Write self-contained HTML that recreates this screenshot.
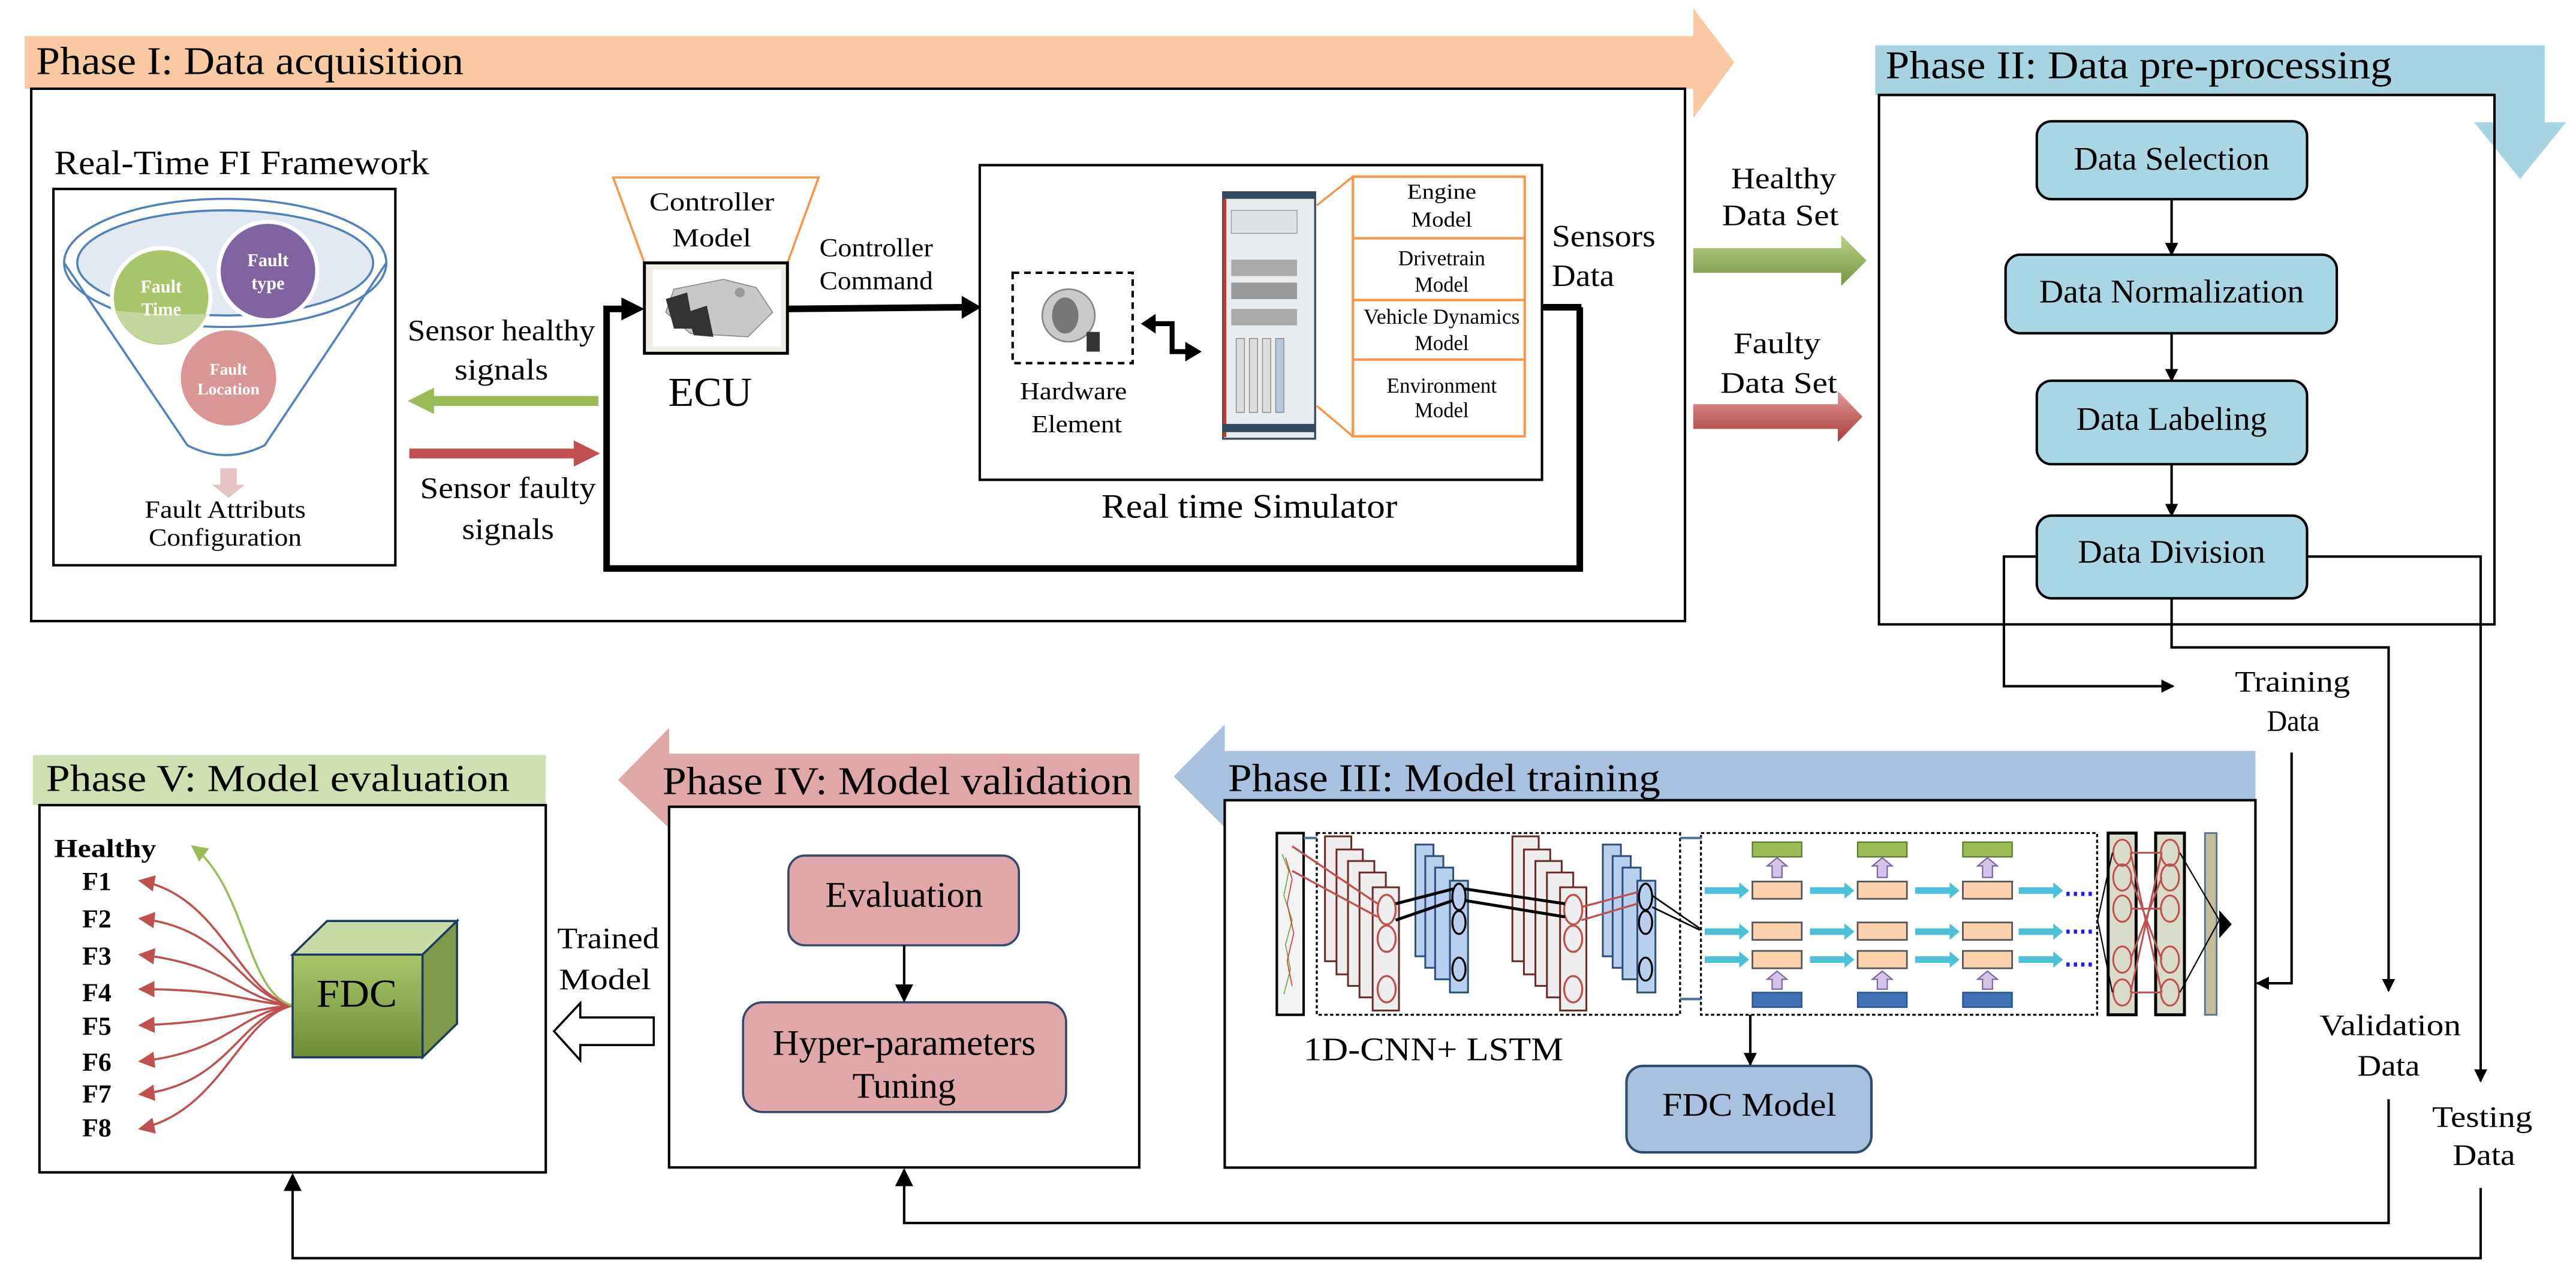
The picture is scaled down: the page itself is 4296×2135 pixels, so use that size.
<!DOCTYPE html>
<html><head><meta charset="utf-8"><style>
html,body{margin:0;padding:0;background:#fff;}
svg{display:block;}
text{font-family:"Liberation Serif",serif;fill:#000;}
</style></head><body>
<svg width="4296" height="2135" viewBox="0 0 1567 779" preserveAspectRatio="none" xmlns="http://www.w3.org/2000/svg">
<defs>
<marker id="ah" viewBox="0 0 10 10" refX="9" refY="5" markerWidth="8" markerHeight="8" markerUnits="userSpaceOnUse" orient="auto"><path d="M0,0 L10,5 L0,10 z" fill="#000"/></marker>
<marker id="ahb" viewBox="0 0 10 10" refX="9" refY="5" markerWidth="11" markerHeight="11" markerUnits="userSpaceOnUse" orient="auto"><path d="M0,0 L10,5 L0,10 z" fill="#000"/></marker>
<marker id="ahr" viewBox="0 0 10 10" refX="9" refY="5" markerWidth="10" markerHeight="10" markerUnits="userSpaceOnUse" orient="auto"><path d="M0,0 L10,5 L0,10 z" fill="#c0504d"/></marker>
<marker id="ahg" viewBox="0 0 10 10" refX="9" refY="5" markerWidth="10" markerHeight="10" markerUnits="userSpaceOnUse" orient="auto"><path d="M0,0 L10,5 L0,10 z" fill="#9bbb59"/></marker>
<linearGradient id="gG" x1="0" y1="0" x2="0" y2="1"><stop offset="0" stop-color="#b9d38a"/><stop offset="1" stop-color="#77933c"/></linearGradient>
<linearGradient id="gR" x1="0" y1="0" x2="0" y2="1"><stop offset="0" stop-color="#e39a97"/><stop offset="1" stop-color="#a63c39"/></linearGradient>
<linearGradient id="cube" x1="0" y1="0" x2="0" y2="1"><stop offset="0" stop-color="#a9c769"/><stop offset="1" stop-color="#6f8c35"/></linearGradient>
</defs>

<!-- Phase I -->
<path d="M15,22 L1030,22 L1030,5 L1055,38 L1030,72 L1030,54 L15,54 z" fill="#f9c9a1"/>
<text x="22" y="45" font-size="24" textLength="260" lengthAdjust="spacingAndGlyphs">Phase I: Data acquisition</text>
<rect x="19" y="54" width="1006" height="324" fill="none" stroke="#000" stroke-width="1.5"/>

<text x="33" y="106" font-size="21" textLength="228" lengthAdjust="spacingAndGlyphs">Real-Time FI Framework</text>
<rect x="32.5" y="115" width="208" height="229" fill="none" stroke="#000" stroke-width="1.5"/>
<!-- funnel -->
<path d="M39,160 L114,271 Q137,283 161,271 L235,160" fill="none" stroke="#4f81bd" stroke-width="1.3"/>
<ellipse cx="137" cy="160" rx="98" ry="39" fill="none" stroke="#4f81bd" stroke-width="1.3"/>
<ellipse cx="137" cy="160" rx="90" ry="32" fill="#e3e9f3" stroke="#4f81bd" stroke-width="1.3"/>
<circle cx="98" cy="181" r="30" fill="#a9c56a" stroke="#fff" stroke-width="2.5"/>
<path d="M70,189 A30,30 0 0 0 126,191 Q100,192 70,189z" fill="#c3d69b"/>
<circle cx="163" cy="165" r="30" fill="#8064a2" stroke="#fff" stroke-width="2.5"/>
<circle cx="139" cy="230" r="29" fill="#d99694"/>
<text x="98" y="178" font-size="11" font-weight="bold" text-anchor="middle" style="fill:#fff">Fault</text>
<text x="98" y="192" font-size="11" font-weight="bold" text-anchor="middle" style="fill:#fff">Time</text>
<text x="163" y="162" font-size="11" font-weight="bold" text-anchor="middle" style="fill:#fff">Fault</text>
<text x="163" y="176" font-size="11" font-weight="bold" text-anchor="middle" style="fill:#fff">type</text>
<text x="139" y="228" font-size="10" font-weight="bold" text-anchor="middle" style="fill:#fff">Fault</text>
<text x="139" y="240" font-size="10" font-weight="bold" text-anchor="middle" style="fill:#fff">Location</text>
<path d="M134,285 L144,285 L144,295 L149,295 L139,303 L129,295 L134,295 z" fill="#e6c4c4"/>
<text x="137" y="315" font-size="15" text-anchor="middle" textLength="98" lengthAdjust="spacingAndGlyphs">Fault Attributs</text>
<text x="137" y="332" font-size="15" text-anchor="middle" textLength="93" lengthAdjust="spacingAndGlyphs">Configuration</text>

<!-- sensor arrows -->
<text x="305" y="207" font-size="18" text-anchor="middle" textLength="114" lengthAdjust="spacingAndGlyphs">Sensor healthy</text>
<text x="305" y="231" font-size="18" text-anchor="middle" textLength="57" lengthAdjust="spacingAndGlyphs">signals</text>
<path d="M364,241 L264,241 L264,236 L248,244 L264,252 L264,247 L364,247 z" fill="#9bbb59"/>
<path d="M249,273 L349,273 L349,268 L365,276 L349,284 L349,279 L249,279 z" fill="#c0504d"/>
<text x="309" y="303" font-size="18" text-anchor="middle" textLength="107" lengthAdjust="spacingAndGlyphs">Sensor faulty</text>
<text x="309" y="328" font-size="18" text-anchor="middle" textLength="56" lengthAdjust="spacingAndGlyphs">signals</text>

<!-- ECU -->
<path d="M373,108 L498,108 L479,160 L392,160 z" fill="#fff" stroke="#f79646" stroke-width="1.3"/>
<text x="433" y="128" font-size="16" text-anchor="middle" textLength="76" lengthAdjust="spacingAndGlyphs">Controller</text>
<text x="433" y="150" font-size="16" text-anchor="middle" textLength="48" lengthAdjust="spacingAndGlyphs">Model</text>
<rect x="392" y="160" width="87" height="55" fill="#efede4" stroke="#000" stroke-width="1.8"/>
<rect x="397" y="164" width="78" height="47" fill="#fff"/>
<path d="M410,176 L440,170 L460,175 L470,190 L455,205 L420,203 L405,190 z" fill="#c8c8c8" stroke="#888" stroke-width="0.6"/>
<path d="M405,182 L418,178 L422,200 L410,200 z" fill="#333"/>
<path d="M418,190 L430,186 L434,205 L422,204 z" fill="#333"/>
<circle cx="450" cy="178" r="3" fill="#999"/>
<text x="432" y="247" font-size="25" text-anchor="middle" textLength="51" lengthAdjust="spacingAndGlyphs">ECU</text>

<!-- loop -->
<path d="M961,187 L961,346 L369,346 L369,188 L380,188" fill="none" stroke="#000" stroke-width="4"/>
<path d="M378,181 L392,188 L378,195 z" fill="#000"/>
<line x1="938" y1="187" x2="962" y2="187" stroke="#000" stroke-width="4"/>
<line x1="479" y1="188" x2="586" y2="187" stroke="#000" stroke-width="4"/>
<path d="M585,180 L597,187 L585,194 z" fill="#000"/>
<text x="533" y="156" font-size="16" text-anchor="middle" textLength="69" lengthAdjust="spacingAndGlyphs">Controller</text>
<text x="533" y="176" font-size="16" text-anchor="middle" textLength="69" lengthAdjust="spacingAndGlyphs">Command</text>

<!-- simulator -->
<rect x="596" y="100.5" width="342" height="191.5" fill="none" stroke="#000" stroke-width="1.5"/>
<rect x="616" y="166" width="73" height="55" fill="none" stroke="#000" stroke-width="1.5" stroke-dasharray="4,3"/>
<circle cx="650" cy="192" r="16" fill="#c9c9c9" stroke="#888" stroke-width="1"/>
<ellipse cx="648" cy="192" rx="8" ry="11" fill="#777"/>
<rect x="661" y="202" width="8" height="12" fill="#333"/>
<text x="653" y="243" font-size="15" text-anchor="middle" textLength="65" lengthAdjust="spacingAndGlyphs">Hardware</text>
<text x="655" y="263" font-size="15" text-anchor="middle" textLength="55" lengthAdjust="spacingAndGlyphs">Element</text>
<path d="M702,197 L713,197 L713,214 L722,214" fill="none" stroke="#000" stroke-width="3"/>
<path d="M703,191 L694,197 L703,203 z" fill="#000"/>
<path d="M721,208 L731,214 L721,220 z" fill="#000"/>
<!-- rack -->
<rect x="744" y="117" width="56" height="150" fill="#e8ecef" stroke="#34495e" stroke-width="1.2"/>
<rect x="744" y="117" width="56" height="4" fill="#34495e"/>
<rect x="744" y="121" width="2" height="145" fill="#c0392b"/>
<rect x="749" y="128" width="40" height="14" fill="#dfe3e6" stroke="#999" stroke-width="0.5"/>
<rect x="749" y="158" width="40" height="10" fill="#aaa"/>
<rect x="749" y="172" width="40" height="10" fill="#999"/>
<rect x="749" y="188" width="40" height="10" fill="#aaa"/>
<rect x="752" y="206" width="5" height="45" fill="#ddd" stroke="#888" stroke-width="0.5"/>
<rect x="760" y="206" width="5" height="45" fill="#ddd" stroke="#888" stroke-width="0.5"/>
<rect x="768" y="206" width="5" height="45" fill="#ddd" stroke="#888" stroke-width="0.5"/>
<rect x="776" y="206" width="5" height="45" fill="#b8c8dc" stroke="#888" stroke-width="0.5"/>
<rect x="744" y="258" width="56" height="5" fill="#34495e"/>
<!-- orange model boxes -->
<path d="M801,125 L823,107.5 M801,247 L823,265.6" stroke="#f79646" stroke-width="1.3"/>
<rect x="823" y="107.5" width="104.5" height="158" fill="#fff" stroke="#f79646" stroke-width="1.5"/>
<line x1="823" y1="145" x2="927.5" y2="145" stroke="#f79646" stroke-width="1.5"/>
<line x1="823" y1="182.6" x2="927.5" y2="182.6" stroke="#f79646" stroke-width="1.5"/>
<line x1="823" y1="218.8" x2="927.5" y2="218.8" stroke="#f79646" stroke-width="1.5"/>
<g font-size="13" text-anchor="middle">
<text x="877" y="121" textLength="42" lengthAdjust="spacingAndGlyphs">Engine</text>
<text x="877" y="138" textLength="37" lengthAdjust="spacingAndGlyphs">Model</text>
<text x="877" y="161.5" textLength="53" lengthAdjust="spacingAndGlyphs">Drivetrain</text>
<text x="877" y="177.5" textLength="33" lengthAdjust="spacingAndGlyphs">Model</text>
<text x="877" y="197" textLength="95" lengthAdjust="spacingAndGlyphs">Vehicle Dynamics</text>
<text x="877" y="213" textLength="33" lengthAdjust="spacingAndGlyphs">Model</text>
<text x="877" y="239" textLength="67" lengthAdjust="spacingAndGlyphs">Environment</text>
<text x="877" y="254" textLength="33" lengthAdjust="spacingAndGlyphs">Model</text>
</g>
<text x="760" y="315" font-size="21" text-anchor="middle" textLength="180" lengthAdjust="spacingAndGlyphs">Real time Simulator</text>
<text x="944" y="150" font-size="19" textLength="63" lengthAdjust="spacingAndGlyphs">Sensors</text>
<text x="944" y="174" font-size="19" textLength="38" lengthAdjust="spacingAndGlyphs">Data</text>

<!-- data set arrows -->
<text x="1085" y="114.5" font-size="18" text-anchor="middle" textLength="64" lengthAdjust="spacingAndGlyphs">Healthy</text>
<text x="1083" y="137" font-size="18" text-anchor="middle" textLength="71" lengthAdjust="spacingAndGlyphs">Data Set</text>
<path d="M1030,151 L1120,151 L1120,143 L1135.5,158.6 L1120,174 L1120,166 L1030,166 z" fill="url(#gG)"/>
<text x="1081" y="215" font-size="18" text-anchor="middle" textLength="53" lengthAdjust="spacingAndGlyphs">Faulty</text>
<text x="1082" y="239" font-size="18" text-anchor="middle" textLength="71" lengthAdjust="spacingAndGlyphs">Data Set</text>
<path d="M1030,246 L1118,246 L1118,238 L1133,253.6 L1118,269 L1118,261 L1030,261 z" fill="url(#gR)"/>

<!-- Phase II -->
<path d="M1140.7,27.6 L1548,27.6 L1548,74.4 L1561,74.4 L1533,109 L1505,74.4 L1517,74.4 L1517,57.8 L1140.7,57.8 z" fill="#a6d5e1"/>
<text x="1147" y="47.6" font-size="24" textLength="308" lengthAdjust="spacingAndGlyphs">Phase II: Data pre-processing</text>
<rect x="1143" y="57.8" width="374.4" height="322.2" fill="none" stroke="#000" stroke-width="1.5"/>
<g fill="#a8d6e2" stroke="#000" stroke-width="1.5">
<rect x="1239" y="73.8" width="164.4" height="47.4" rx="9"/>
<rect x="1220" y="155" width="201.5" height="47.8" rx="9"/>
<rect x="1239" y="231.7" width="164.4" height="50.8" rx="9"/>
<rect x="1239" y="313.8" width="164.4" height="50.3" rx="9"/>
</g>
<g font-size="20" text-anchor="middle">
<text x="1321" y="103.3" textLength="119" lengthAdjust="spacingAndGlyphs">Data Selection</text>
<text x="1321" y="184" textLength="161" lengthAdjust="spacingAndGlyphs">Data Normalization</text>
<text x="1321" y="261.6" textLength="116" lengthAdjust="spacingAndGlyphs">Data Labeling</text>
<text x="1321" y="342.4" textLength="114" lengthAdjust="spacingAndGlyphs">Data Division</text>
</g>
<g stroke="#000" stroke-width="1.5" fill="none" marker-end="url(#ah)">
<line x1="1321" y1="121.2" x2="1321" y2="155"/>
<line x1="1321" y1="202.8" x2="1321" y2="231.7"/>
<line x1="1321" y1="282.5" x2="1321" y2="313.8"/>
<path d="M1239,338.7 L1219,338.7 L1219,417.6 L1322,417.6"/>
<path d="M1321,364 L1321,394 L1453,394 L1453,603"/>
<path d="M1403,338.7 L1509,338.7 L1509,658"/>
<path d="M1394,458 L1394,598.4 L1373,598.4"/>
</g>
<text x="1394.5" y="420.8" font-size="18" text-anchor="middle" textLength="70" lengthAdjust="spacingAndGlyphs">Training</text>
<text x="1395" y="444.7" font-size="18" text-anchor="middle" textLength="32" lengthAdjust="spacingAndGlyphs">Data</text>
<text x="1454" y="630" font-size="18" text-anchor="middle" textLength="86" lengthAdjust="spacingAndGlyphs">Validation</text>
<text x="1453" y="654.6" font-size="18" text-anchor="middle" textLength="38" lengthAdjust="spacingAndGlyphs">Data</text>
<text x="1510" y="685.7" font-size="18" text-anchor="middle" textLength="61" lengthAdjust="spacingAndGlyphs">Testing</text>
<text x="1511" y="709" font-size="18" text-anchor="middle" textLength="38" lengthAdjust="spacingAndGlyphs">Data</text>
<path d="M1453,669 L1453,744.3 L550,744.3 L550,712" fill="none" stroke="#000" stroke-width="1.5" marker-end="url(#ahb)"/>
<path d="M1509,723 L1509,765.7 L178,765.7 L178,715" fill="none" stroke="#000" stroke-width="1.5" marker-end="url(#ahb)"/>

<!-- Phase III -->
<path d="M745,441 L745,457 L1372,457 L1372,487 L745,487 L745,503.6 L714,472.5 z" fill="#a8c1df"/>
<text x="747" y="481.4" font-size="24" textLength="263" lengthAdjust="spacingAndGlyphs">Phase III: Model training</text>
<rect x="745" y="487" width="627" height="223.6" fill="none" stroke="#000" stroke-width="1.5"/>
<!-- NN -->
<rect x="776.7" y="507" width="16.3" height="110.6" fill="#f3f3f3" stroke="#000" stroke-width="1.5"/>
<path d="M780,520 L784,530 L781,545 L786,560 L782,575 L785,590 L781,605" fill="none" stroke="#6a3" stroke-width="0.6"/>
<path d="M782,522 L786,535 L783,550 L787,568 L783,585 L786,600" fill="none" stroke="#d33" stroke-width="0.6"/>
<rect x="801" y="507" width="221" height="110.6" fill="none" stroke="#000" stroke-width="1.2" stroke-dasharray="2,1.5"/>
<rect x="1034.7" y="507" width="241" height="110.6" fill="none" stroke="#000" stroke-width="1.2" stroke-dasharray="2,1.5"/>
<line x1="793" y1="510" x2="801" y2="510" stroke="#4f6f9a" stroke-width="1.5"/>
<line x1="1022" y1="510" x2="1035" y2="510" stroke="#4f6f9a" stroke-width="1.5"/>
<line x1="1022" y1="608" x2="1035" y2="608" stroke="#4f6f9a" stroke-width="1.5"/>
<g fill="#eee" stroke="#6b2a26" stroke-width="1.1">
<rect x="806" y="509" width="16" height="76"/><rect x="813" y="517" width="16" height="76"/><rect x="820" y="524" width="16" height="76"/><rect x="827" y="531" width="16" height="76"/><rect x="835" y="540" width="16" height="75"/>
<rect x="920" y="509" width="16" height="76"/><rect x="927" y="517" width="16" height="76"/><rect x="934" y="524" width="16" height="76"/><rect x="941" y="531" width="16" height="76"/><rect x="949" y="540" width="16" height="75"/>
</g>
<g fill="#b8d0ee" stroke="#2d4f7a" stroke-width="1.1">
<rect x="861" y="514" width="11" height="68"/><rect x="867" y="521" width="11" height="68"/><rect x="873" y="528" width="11" height="68"/><rect x="882" y="536" width="11" height="68"/>
<rect x="975" y="514" width="11" height="68"/><rect x="981" y="521" width="11" height="68"/><rect x="987" y="528" width="11" height="68"/><rect x="996" y="536" width="11" height="68"/>
</g>
<g fill="none" stroke="#c0504d" stroke-width="1.2">
<ellipse cx="843.5" cy="553.6" rx="5.5" ry="9"/><ellipse cx="843.5" cy="571.3" rx="5.5" ry="8"/><ellipse cx="843.5" cy="602" rx="5.5" ry="8"/>
<ellipse cx="957" cy="553.6" rx="5.5" ry="9"/><ellipse cx="957" cy="571.3" rx="5.5" ry="8"/><ellipse cx="957" cy="602" rx="5.5" ry="8"/>
<line x1="786" y1="515" x2="838" y2="550"/><line x1="786" y1="530" x2="838" y2="558"/>
<line x1="962" y1="552" x2="996" y2="543"/><line x1="962" y1="560" x2="996" y2="550"/>
</g>
<g fill="none" stroke="#000" stroke-width="1.2">
<ellipse cx="887.5" cy="545.8" rx="4" ry="8"/><ellipse cx="887.5" cy="561.4" rx="4" ry="7"/><ellipse cx="887.5" cy="589.8" rx="4" ry="7"/>
<ellipse cx="1001" cy="545.8" rx="4" ry="8"/><ellipse cx="1001" cy="561.4" rx="4" ry="7"/><ellipse cx="1001" cy="589.8" rx="4" ry="7"/>
</g>
<g stroke="#000" stroke-width="1.8">
<line x1="849" y1="550" x2="884" y2="541"/><line x1="849" y1="560" x2="884" y2="548"/>
<line x1="891" y1="541" x2="952" y2="550"/><line x1="891" y1="548" x2="952" y2="558"/>
<line x1="1005" y1="545" x2="1034" y2="565" stroke-width="1"/><line x1="1005" y1="552" x2="1034" y2="566" stroke-width="1"/>
</g>
<!-- LSTM -->
<g fill="#9bbb59" stroke="#5a7a2a" stroke-width="0.8">
<rect x="1066" y="512.5" width="30" height="9"/><rect x="1130" y="512.5" width="30" height="9"/><rect x="1194" y="512.5" width="30" height="9"/>
</g>
<g fill="#3f72b5" stroke="#254f8a" stroke-width="0.8">
<rect x="1066" y="604" width="30" height="9"/><rect x="1130" y="604" width="30" height="9"/><rect x="1194" y="604" width="30" height="9"/>
</g>
<g fill="#fcd1ad" stroke="#555" stroke-width="1">
<rect x="1066" y="536.5" width="30" height="10.5"/><rect x="1130" y="536.5" width="30" height="10.5"/><rect x="1194" y="536.5" width="30" height="10.5"/>
<rect x="1066" y="561.4" width="30" height="10.6"/><rect x="1130" y="561.4" width="30" height="10.6"/><rect x="1194" y="561.4" width="30" height="10.6"/>
<rect x="1066" y="578.7" width="30" height="10.6"/><rect x="1130" y="578.7" width="30" height="10.6"/><rect x="1194" y="578.7" width="30" height="10.6"/>
</g>
<g fill="#d4c4ea" stroke="#8064a2" stroke-width="0.8">
<path d="M1078,534 L1078,527 L1075,527 L1081,522 L1087,527 L1084,527 L1084,534z"/><path d="M1142,534 L1142,527 L1139,527 L1145,522 L1151,527 L1148,527 L1148,534z"/><path d="M1206,534 L1206,527 L1203,527 L1209,522 L1215,527 L1212,527 L1212,534z"/>
<path d="M1078,602 L1078,596 L1075,596 L1081,591 L1087,596 L1084,596 L1084,602z"/><path d="M1142,602 L1142,596 L1139,596 L1145,591 L1151,596 L1148,596 L1148,602z"/><path d="M1206,602 L1206,596 L1203,596 L1209,591 L1215,596 L1212,596 L1212,602z"/>
</g>
<g fill="#4bc0d9">
<path d="M1037,540 L1058,540 L1058,537 L1064,542 L1058,547 L1058,544 L1037,544z"/><path d="M1101,540 L1122,540 L1122,537 L1128,542 L1122,547 L1122,544 L1101,544z"/><path d="M1165,540 L1186,540 L1186,537 L1192,542 L1186,547 L1186,544 L1165,544z"/><path d="M1228,540 L1249,540 L1249,537 L1255,542 L1249,547 L1249,544 L1228,544z"/>
<path d="M1037,565 L1058,565 L1058,562 L1064,567 L1058,572 L1058,569 L1037,569z"/><path d="M1101,565 L1122,565 L1122,562 L1128,567 L1122,572 L1122,569 L1101,569z"/><path d="M1165,565 L1186,565 L1186,562 L1192,567 L1186,572 L1186,569 L1165,569z"/><path d="M1228,565 L1249,565 L1249,562 L1255,567 L1249,572 L1249,569 L1228,569z"/>
<path d="M1037,582 L1058,582 L1058,579 L1064,584 L1058,589 L1058,586 L1037,586z"/><path d="M1101,582 L1122,582 L1122,579 L1128,584 L1122,589 L1122,586 L1101,586z"/><path d="M1165,582 L1186,582 L1186,579 L1192,584 L1186,589 L1186,586 L1165,586z"/><path d="M1228,582 L1249,582 L1249,579 L1255,584 L1249,589 L1249,586 L1228,586z"/>
</g>
<g stroke="#1a1aff" stroke-width="2.5" stroke-dasharray="2,2.5">
<line x1="1257" y1="544" x2="1274" y2="544"/><line x1="1257" y1="567" x2="1274" y2="567"/><line x1="1257" y1="587" x2="1274" y2="587"/>
</g>
<!-- dense -->
<rect x="1282.4" y="507" width="17" height="110.6" fill="#d9dccb" stroke="#000" stroke-width="1.8"/>
<rect x="1311.3" y="507" width="17.5" height="110.6" fill="#d9dccb" stroke="#000" stroke-width="1.8"/>
<rect x="1341.3" y="507" width="7.1" height="110.6" fill="#c4bd97" stroke="#4f6f9a" stroke-width="1"/>
<g fill="none" stroke="#c0504d" stroke-width="1.1">
<ellipse cx="1291" cy="519" rx="5.5" ry="8"/><ellipse cx="1291" cy="534" rx="5.5" ry="8"/><ellipse cx="1291" cy="553" rx="5.5" ry="8"/><ellipse cx="1291" cy="584" rx="5.5" ry="8"/><ellipse cx="1291" cy="604" rx="5.5" ry="8"/>
<ellipse cx="1320" cy="519" rx="5.5" ry="8"/><ellipse cx="1320" cy="534" rx="5.5" ry="8"/><ellipse cx="1320" cy="553" rx="5.5" ry="8"/><ellipse cx="1320" cy="584" rx="5.5" ry="8"/><ellipse cx="1320" cy="604" rx="5.5" ry="8"/>
<path d="M1296,519 L1315,604 M1296,604 L1315,519 M1296,534 L1315,584 M1296,584 L1315,534 M1296,553 L1315,553 M1296,519 L1315,519 M1296,604 L1315,604"/>
</g>
<g stroke="#000" stroke-width="0.8"><path d="M1276,560 L1285,519 M1276,560 L1285,604 M1326,519 L1350,560 M1326,604 L1350,560"/></g>
<path d="M1350,554 L1357.6,562.5 L1350,571 z" fill="#000"/>
<text x="793" y="645.3" font-size="20" textLength="158" lengthAdjust="spacingAndGlyphs">1D-CNN+ LSTM</text>
<line x1="1064.7" y1="617.6" x2="1064.7" y2="648" stroke="#000" stroke-width="1.5" marker-end="url(#ah)"/>
<rect x="989.4" y="648.7" width="149" height="52.6" rx="10" fill="#a8c1df" stroke="#2f4a6e" stroke-width="1.5"/>
<text x="1064" y="679" font-size="20" text-anchor="middle" textLength="106" lengthAdjust="spacingAndGlyphs">FDC Model</text>

<!-- Phase IV -->
<path d="M407,443 L407,458.7 L693,458.7 L693,491 L407,491 L407,504 L376,474.6 z" fill="#dfa7a7"/>
<text x="403" y="483.3" font-size="24" textLength="286" lengthAdjust="spacingAndGlyphs">Phase IV: Model validation</text>
<rect x="407" y="491" width="286" height="219.5" fill="none" stroke="#000" stroke-width="1.5"/>
<rect x="479.6" y="520.7" width="140.2" height="54.6" rx="10" fill="#dfa7a7" stroke="#2f4a6e" stroke-width="1.3"/>
<rect x="452" y="610" width="196.5" height="66.8" rx="12" fill="#dfa7a7" stroke="#2f4a6e" stroke-width="1.3"/>
<text x="550" y="551.8" font-size="22" text-anchor="middle" textLength="96" lengthAdjust="spacingAndGlyphs">Evaluation</text>
<text x="550" y="642" font-size="22" text-anchor="middle" textLength="160" lengthAdjust="spacingAndGlyphs">Hyper-parameters</text>
<text x="550" y="668" font-size="22" text-anchor="middle" textLength="63" lengthAdjust="spacingAndGlyphs">Tuning</text>
<line x1="550" y1="575.3" x2="550" y2="609" stroke="#000" stroke-width="1.5" marker-end="url(#ahb)"/>
<text x="370" y="577" font-size="18" text-anchor="middle" textLength="62" lengthAdjust="spacingAndGlyphs">Trained</text>
<text x="368" y="602" font-size="18" text-anchor="middle" textLength="56" lengthAdjust="spacingAndGlyphs">Model</text>
<path d="M397.7,619.2 L353,619.2 L353,610.5 L337,627.6 L353,645.3 L353,636 L397.7,636 z" fill="#fff" stroke="#000" stroke-width="1.3"/>

<!-- Phase V -->
<rect x="20" y="459.5" width="312" height="30.5" fill="#cfe0b0"/>
<text x="28" y="481.5" font-size="23" textLength="282" lengthAdjust="spacingAndGlyphs">Phase V: Model evaluation</text>
<rect x="24" y="490" width="308" height="223.5" fill="none" stroke="#000" stroke-width="1.5"/>
<g font-size="16" font-weight="bold">
<text x="33" y="521.5" textLength="62" lengthAdjust="spacingAndGlyphs">Healthy</text>
<text x="50" y="541.7">F1</text><text x="50" y="564.5">F2</text><text x="50" y="587">F3</text><text x="50" y="609.3">F4</text>
<text x="50" y="629.7">F5</text><text x="50" y="651.7">F6</text><text x="50" y="671">F7</text><text x="50" y="691.6">F8</text>
</g>
<g fill="none" stroke="#c0504d" stroke-width="1.3" marker-end="url(#ahr)">
<path d="M178,612 C145,605 135,545 85,536"/>
<path d="M178,612 C145,605 140,565 85,559"/>
<path d="M178,612 C145,608 140,587 85,581"/>
<path d="M178,612 C150,610 140,602 85,602"/>
<path d="M178,612 C150,614 140,622 85,624"/>
<path d="M178,612 C145,616 140,640 85,646"/>
<path d="M178,612 C145,618 140,660 85,666"/>
<path d="M178,612 C145,620 135,676 85,687"/>
</g>
<path d="M178,612 C150,605 150,540 117,515" fill="none" stroke="#9bbb59" stroke-width="1.3" marker-end="url(#ahg)"/>
<path d="M178,581 L199,560.5 L278,560.5 L257,581 z" fill="#c8dba4" stroke="#1f3a5f" stroke-width="1.3"/>
<path d="M257,581 L278,560.5 L278,623 L257,643.5 z" fill="#7f9a48" stroke="#1f3a5f" stroke-width="1.3"/>
<rect x="178" y="581" width="79" height="62.5" fill="url(#cube)" stroke="#1f3a5f" stroke-width="1.3"/>
<text x="217" y="612.6" font-size="24" text-anchor="middle" textLength="49" lengthAdjust="spacingAndGlyphs">FDC</text>
</svg>
</body></html>
